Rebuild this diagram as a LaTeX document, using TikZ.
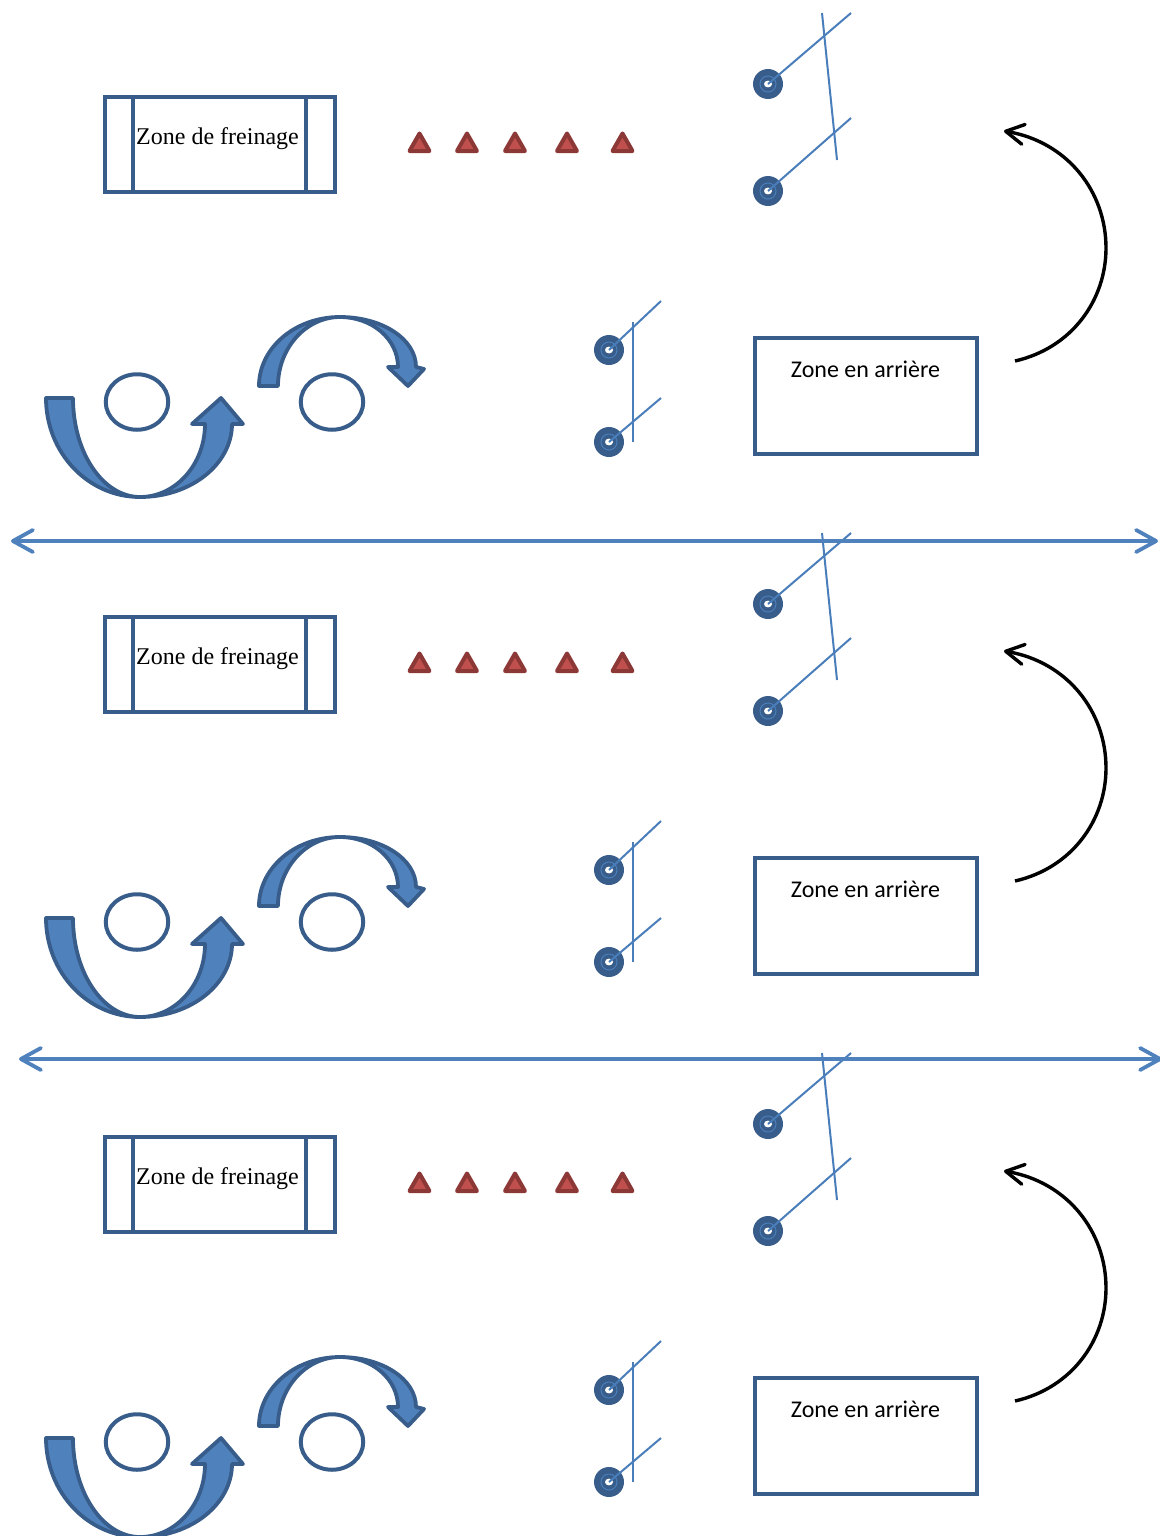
\documentclass[tikz,border=0pt]{standalone}
\usepackage{fontspec}
\setmainfont{Liberation Serif}
\newfontfamily\calib{Carlito}
\usetikzlibrary{arrows.meta,shapes.geometric}
\definecolor{outl}{HTML}{385D8A}
\definecolor{fillb}{HTML}{4F81BD}
\definecolor{lineb}{HTML}{4A7EBB}
\definecolor{trif}{HTML}{C0504D}
\definecolor{trio}{HTML}{8C3836}
\begin{document}
\begin{tikzpicture}[x=0.5pt,y=-0.5pt,
  zone/.style={draw=outl,line width=2pt,rectangle,inner sep=0pt},
  cone/.style={draw=trio,fill=trif,line width=2pt,line join=round},
  pinline/.style={draw=lineb,line width=1pt},
  peg/.style={circle,fill=outl,minimum size=15pt,inner sep=0pt},
  ribbon/.style={draw=outl,fill=fillb,line width=1.9pt,line join=round},
  ring/.style={draw=outl,line width=2pt,ellipse,inner sep=0pt,minimum width=31.25pt,minimum height=27.75pt},
  sep/.style={draw=fillb,line width=1.9pt,line cap=round,{Straight Barb[length=10pt,width=11pt,round]}-{Straight Barb[length=10pt,width=11pt,round]}},
  backarrow/.style={draw=black,line width=1.7pt,-{Straight Barb[length=9pt,width=10pt,round]}}]
\useasboundingbox (0,0) rectangle (1160,1536);
\foreach \s/\dy in {0/0,1/520,2/1040}{
\begin{scope}[yshift={-\dy*0.5pt}]
  % braking zone
  \node[zone,minimum width=115pt,minimum height=47.5pt] (zf\s) at (220,144.5) {};
  \draw[outl,line width=2pt] (133,97) -- (133,192) (306,97) -- (306,192);
  \node[inner sep=0pt,font=\fontsize{12pt}{14pt}\selectfont] (tzf\s) at (217.5,138.5) {Zone de freinage};
  % cones
  \foreach \cx in {419.5,467,515,567,622.5}{
    \draw[cone] (\cx,133.5) -- (\cx+10,151) -- (\cx-10,151) -- cycle;
  }
  % top pegs
  \node[peg] (pa\s) at (768,84) {};
  \node[peg] (pb\s) at (768,191) {};
  \coordinate (pae\s) at (851,13);
  \coordinate (pbe\s) at (851,118);
  \coordinate (va\s) at (822,13);
  \coordinate (vb\s) at (837,160);
  % lower pegs
  \node[peg] (pc\s) at (609,350) {};
  \node[peg] (pd\s) at (609,442) {};
  \coordinate (pce\s) at (661,301);
  \coordinate (pde\s) at (661,398);
  \coordinate (vc\s) at (633,322);
  \coordinate (vd\s) at (633,442);
  \foreach \p in {pa,pb,pc,pd}{
    \draw[lineb,line width=0.5pt] (\p\s) circle[radius=4pt];
    \fill[white] (\p\s) ellipse[x radius=2pt,y radius=1.7pt];
  }
  \draw[pinline] (pa\s.center) -- (pae\s);
  \draw[pinline] (pb\s.center) -- (pbe\s);
  \draw[pinline] (va\s) -- (vb\s);
  \draw[pinline] (pc\s.center) -- (pce\s);
  \draw[pinline] (pd\s.center) -- (pde\s);
  \draw[pinline] (vc\s) -- (vd\s);
  % back zone
  \node[zone,minimum width=111pt,minimum height=58pt] (za\s) at (866,396) {};
  \node[anchor=base,inner sep=0pt,font=\calib\fontsize{12pt}{14pt}\selectfont] (tza\s) at (865.5,377) {Zone en arrière};
  % black curved arrow
  \coordinate (ba\s) at (1015,361);
  \coordinate (bb\s) at (1004,131);
  \draw[backarrow] (ba\s) .. controls (1072,348) and (1106,300) .. (1106,248)
     .. controls (1106,192) and (1068,142) .. (bb\s);
  % ellipses
  \node[ring] (ea\s) at (137,402) {};
  \node[ring] (eb\s) at (332,402) {};
  % U-shaped arrow
  \path[ribbon] (46,398) .. controls (46,452.7) and (88,497) .. (140,497)
     .. controls (103,497) and (73,452.7) .. (73,398) -- cycle;
  \path[ribbon] (140,497) .. controls (191,497) and (232,464) .. (232,424)
     -- (243,424) -- (221,398) -- (192,424) -- (205,424)
     .. controls (205,464) and (176,497) .. (140,497) -- cycle;
  % over arrow
  \path[ribbon] (259,386) .. controls (259,348) and (295,317) .. (340,317)
     .. controls (306,317) and (278,348) .. (278,386) -- cycle;
  \path[ribbon] (340,317) .. controls (382,317) and (416,339) .. (416,367)
     -- (424,369) -- (408,386) -- (388,367) -- (398,367)
     .. controls (398,339) and (372,317) .. (340,317) -- cycle;
\end{scope}
}
% separators
\coordinate (L1) at (11,541);
\coordinate (R1) at (1158,541);
\coordinate (L2) at (19,1059);
\coordinate (R2) at (1162,1059);
\draw[sep] (L1) -- (R1);
\draw[sep] (L2) -- (R2);
\end{tikzpicture}
\end{document}
